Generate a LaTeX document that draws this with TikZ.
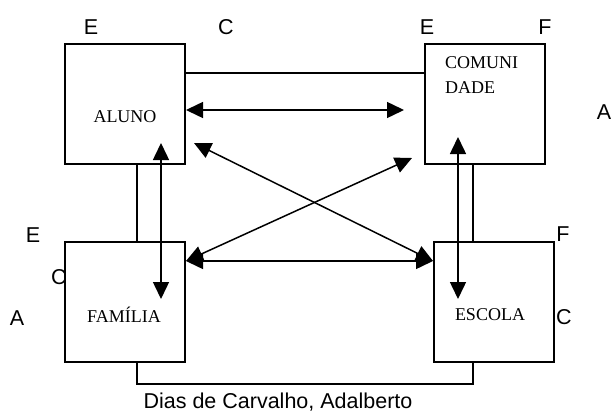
\documentclass[tikz,border=0pt]{standalone}
\usepackage{fontspec}
\setmainfont{Liberation Serif}
\newfontfamily\lblfont{Liberation Sans}
\usetikzlibrary{arrows.meta}
\tikzset{
  box/.style={draw, line width=1.6pt, fill=white, minimum width=120pt, minimum height=120pt, inner sep=0pt},
  boxtext/.style={font=\fontsize{18}{25}\selectfont, inner sep=0pt},
  lbl/.style={font=\lblfont\fontsize{21.5}{24}\selectfont, inner sep=0pt},
  link/.style={line width=1.5pt},
  dbl/.style={line width=1.5pt, {Triangle[length=17pt,width=16pt]}-{Triangle[length=17pt,width=16pt]}}
}
\begin{document}
\begin{tikzpicture}[x=1pt,y=-1pt]
\useasboundingbox (0,0) rectangle (611,412);
% corner letters
\node[lbl] (l1) at (91,27) {E};
\node[lbl] (l2) at (226,27) {C};
\node[lbl] (l3) at (427,27) {E};
\node[lbl] (l4) at (545,27) {F};
\node[lbl] (l5) at (604,112) {A};
\node[lbl] (l6) at (33,235) {E};
\node[lbl] (l7) at (59,277) {C};
\node[lbl] (l8) at (17,318) {A};
\node[lbl] (l9) at (563,234) {F};
\node[lbl] (l10) at (564,317) {C};
% boxes
\node[box] (aluno) at (125,104) {};
\node[box] (comu) at (485,104) {};
\node[box] (fam) at (125,302) {};
\node[box] (esc) at (494,302) {};
\node[boxtext] (taluno) at (125,117) {ALUNO};
\node[boxtext, anchor=north west, align=left] (tcomu) at (445,56) {COMUNI\\DADE};
\node[boxtext] (tfam) at (124,315) {FAMÍLIA};
\node[boxtext] (tesc) at (490,315) {ESCOLA};
% endpoints
\coordinate (a1) at (186,110);
\coordinate (c1) at (404,110);
\coordinate (a2) at (194,143);
\coordinate (e2) at (433,261);
\coordinate (f2) at (186,261);
\coordinate (c2) at (412,158);
\coordinate (a3) at (161,143);
\coordinate (f3) at (161,299);
\coordinate (c3) at (458,137);
\coordinate (e3) at (458,299);
% plain links
\draw[link] (aluno.east |- 0,73) -- (comu.west |- 0,73);
\draw[link] (aluno.south -| 137,0) -- (fam.north -| 137,0);
\draw[link] (comu.south -| 473,0) -- (esc.north -| 473,0);
\draw[link] (fam.south -| 137,0) -- (137,384) -- (473,384) -- (esc.south -| 473,0);
% double arrows
\draw[dbl] (a1) -- (c1);
\draw[dbl] (a2) -- (e2);
\draw[dbl] (f2) -- (c2);
\draw[dbl] (f2) -- (e2);
\draw[dbl] (a3) -- (f3);
\draw[dbl] (c3) -- (e3);
% caption
\node[lbl] (cap) at (278,402) {Dias de Carvalho, Adalberto};
\end{tikzpicture}
\end{document}
